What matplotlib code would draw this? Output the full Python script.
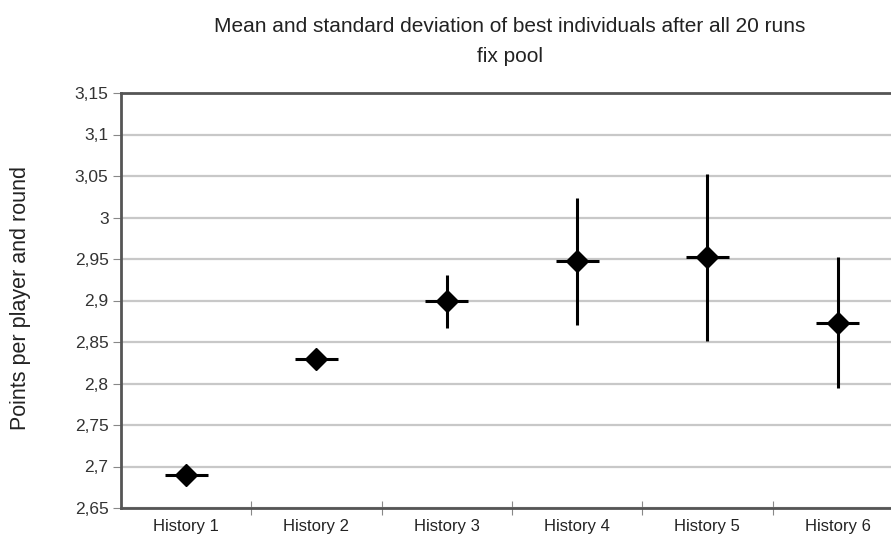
import numpy as np
import matplotlib
matplotlib.use("Agg")
import matplotlib.pyplot as plt
from matplotlib.ticker import FixedLocator, FuncFormatter

# values
labels = ["History 1", "History 2", "History 3", "History 4", "History 5", "History 6"]
means = [2.690, 2.830, 2.899, 2.948, 2.953, 2.873]
upper = [2.690, 2.830, 2.931, 3.024, 3.052, 2.953]
lower = [2.690, 2.830, 2.867, 2.870, 2.851, 2.794]
yticks = [2.65, 2.7, 2.75, 2.8, 2.85, 2.9, 2.95, 3.0, 3.05, 3.1, 3.15]

plt.rcParams['font.family'] = ['Liberation Sans', 'DejaVu Sans']

x = np.arange(1, len(labels) + 1)
means = np.array(means)
yerr = [means - np.array(lower), np.array(upper) - means]

fig = plt.figure(figsize=(8.91, 5.42), dpi=100)
ax = fig.add_axes([121 / 891, 1 - 508 / 542, (891 - 121) / 891, (508 - 93) / 542])

ax.set_ylim(2.65, 3.15)
ax.set_xlim(0.5, 0.5 + (891 - 121) / 130.3)

ax.yaxis.set_major_locator(FixedLocator(yticks))
ax.yaxis.set_major_formatter(FuncFormatter(lambda v, p: f"{v:.2f}".rstrip('0').rstrip('.').replace('.', ',')))
ax.grid(axis='y', color='#c8c8c8', linewidth=1.6)
ax.set_axisbelow(True)

ax.errorbar(x, means, yerr=yerr, xerr=0.165, fmt='D', color='black',
            markersize=11, elinewidth=2.2, capsize=0, zorder=3)

ax.xaxis.set_major_locator(FixedLocator(np.arange(1.5, 6.5, 1.0)))
ax.xaxis.set_minor_locator(FixedLocator(x))
ax.xaxis.set_major_formatter(FuncFormatter(lambda v, p: ""))
ax.set_xticks(x, labels, minor=True)
ax.tick_params(axis='x', which='minor', length=0, labelsize=12, pad=8, colors='#222222')
ax.tick_params(axis='x', which='major', direction='inout', length=10, color='#888888')
ax.tick_params(axis='y', direction='out', length=6, color='#888888', labelsize=12.5,
               labelcolor='#333333', pad=3)

for side in ['left', 'bottom', 'top']:
    ax.spines[side].set_color('#555555')
    ax.spines[side].set_linewidth(2)
ax.spines['right'].set_visible(False)

fig.text(21 / 891, 1 - 298 / 542, "Points per player and round", rotation=90,
         ha='center', va='center', fontsize=15.5, color='#222222')
fig.text(510 / 891, 1 - 26 / 542, "Mean and standard deviation of best individuals after all 20 runs",
         ha='center', va='center', fontsize=15, color='#222222')
fig.text(510 / 891, 1 - 57 / 542, "fix pool", ha='center', va='center', fontsize=15, color='#222222')

fig.savefig("out.png", dpi=100)
